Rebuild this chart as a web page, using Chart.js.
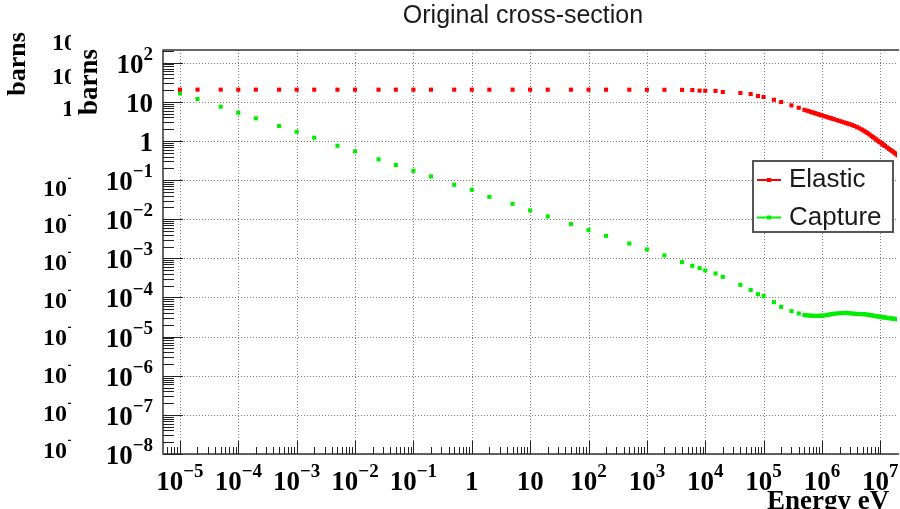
<!DOCTYPE html>
<html>
<head>
<meta charset="utf-8">
<title>Original cross-section</title>
<script src="https://cdn.jsdelivr.net/npm/chart.js@4/dist/chart.umd.min.js"></script>
<style>
  html, body { margin: 0; padding: 0; background: #fff; overflow: hidden; }
  #wrap { width: 900px; height: 509px; position: relative; }
  canvas { display: block; }
</style>
</head>
<body>
<div id="wrap"><canvas id="xs" width="900" height="509"></canvas></div>
<script>
// Incident neutron energy, eV
const energies = [
  1e-5, 2e-5, 5e-5, 1e-4, 2e-4, 5e-4, 1e-3, 2e-3, 5e-3, 1e-2,
  0.0253, 0.05, 0.1, 0.2, 0.5, 1, 2, 5, 10, 20,
  50, 100, 200, 500, 1e3, 2e3, 4e3, 6e3, 8e3, 1e4,
  1.5e4, 2e4, 4e4, 6e4, 8e4, 1e5, 1.5e5, 2e5, 3e5, 4e5,
  5e5, 5.5e5, 6e5, 6.5e5, 7e5, 7.5e5, 8e5, 8.5e5, 9e5, 9.5e5,
  1e6, 1.1e6, 1.2e6, 1.3e6, 1.4e6, 1.5e6, 1.6e6, 1.8e6,
  2e6, 2.2e6, 2.4e6, 2.6e6, 2.8e6, 3e6, 3.3e6, 3.6e6,
  4e6, 4.4e6, 4.8e6, 5.2e6, 5.6e6,
  6e6, 6.5e6, 7e6, 7.5e6, 8e6, 8.5e6, 9e6, 9.5e6,
  1e7, 1.05e7, 1.1e7, 1.15e7, 1.2e7,
  1.3e7, 1.4e7, 1.5e7, 1.6e7, 1.7e7, 1.8e7, 1.9e7, 2e7
];

// Elastic scattering cross-section, barns
const elastic = [
  20.49, 20.48, 20.47, 20.46, 20.46, 20.45, 20.45, 20.44, 20.44, 20.44,
  20.43, 20.43, 20.43, 20.43, 20.43, 20.43, 20.43, 20.43, 20.42, 20.42,
  20.42, 20.41, 20.40, 20.38, 20.35, 20.30, 20.20, 20.00, 19.30, 19.20,
  19.00, 17.80, 16.80, 15.80, 14.10, 13.30, 11.30, 9.90, 8.10, 7.06,
  6.24, 5.97, 5.73, 5.51, 5.32, 5.15, 4.99, 4.85, 4.72, 4.60,
  4.50, 4.30, 4.12, 3.97, 3.84, 3.72, 3.60, 3.40,
  3.24, 3.10, 2.97, 2.86, 2.76, 2.67, 2.54, 2.41,
  2.25, 2.10, 1.96, 1.83, 1.71,
  1.59, 1.47, 1.35, 1.25, 1.17, 1.09, 1.02, 0.96,
  0.92, 0.87, 0.82, 0.78, 0.746,
  0.684, 0.63, 0.585, 0.546, 0.51, 0.48, 0.452, 0.427
];

// Radiative capture cross-section, barns
const capture = [
  16.5, 11.8, 7.5, 5.26, 3.78, 2.40, 1.72, 1.21, 0.754, 0.542,
  0.338, 0.242, 0.173, 0.124, 0.0759, 0.0565, 0.0374, 0.0248, 0.0168, 0.0118,
  0.0075, 0.00526, 0.00376, 0.0024, 1.69e-3, 1.19e-3, 8.0e-4, 6.43e-4, 5.61e-4, 4.91e-4,
  4.11e-4, 3.37e-4, 2.10e-4, 1.56e-4, 1.21e-4, 1.08e-4, 7.58e-5, 5.75e-5, 4.47e-5, 3.90e-5,
  3.55e-5, 3.50e-5, 3.46e-5, 3.42e-5, 3.40e-5, 3.38e-5, 3.38e-5, 3.38e-5, 3.39e-5, 3.41e-5,
  3.43e-5, 3.48e-5, 3.54e-5, 3.62e-5, 3.72e-5, 3.78e-5, 3.83e-5, 3.90e-5,
  3.96e-5, 4.01e-5, 4.04e-5, 4.03e-5, 3.99e-5, 3.94e-5, 3.88e-5, 3.84e-5,
  3.80e-5, 3.77e-5, 3.75e-5, 3.74e-5, 3.70e-5,
  3.64e-5, 3.58e-5, 3.50e-5, 3.44e-5, 3.38e-5, 3.33e-5, 3.28e-5, 3.24e-5,
  3.20e-5, 3.17e-5, 3.13e-5, 3.10e-5, 3.07e-5,
  3.02e-5, 2.97e-5, 2.93e-5, 2.89e-5, 2.86e-5, 2.83e-5, 2.80e-5, 2.78e-5
];

const seriesNames = ['Elastic', 'Capture'];

// Decade ticks and their labels ("^" marks the exponent)
const xTickValues = [1e-5, 1e-4, 1e-3, 1e-2, 1e-1, 1, 10, 1e2, 1e3, 1e4, 1e5, 1e6, 1e7];
const xTickLabels = ['10^-5', '10^-4', '10^-3', '10^-2', '10^-1', '1', '10', '10^2', '10^3', '10^4', '10^5', '10^6', '10^7'];
const yTickValues = [1e-8, 1e-7, 1e-6, 1e-5, 1e-4, 1e-3, 1e-2, 1e-1, 1, 10, 1e2];
const yTickLabels = ['10^-8', '10^-7', '10^-6', '10^-5', '10^-4', '10^-3', '10^-2', '10^-1', '1', '10', '10^2'];

const chartTitle = 'Original cross-section';
const xTitle = 'Energy eV';
const yTitle = 'barns';

const SERIF = '"Liberation Serif", "Times New Roman", serif';
const SANS = '"Liberation Sans", Arial, sans-serif';

function toPoints(ys) {
  return energies.map((e, i) => ({ x: e, y: ys[i] }));
}

// Draws a label such as "10^-3" as base + raised exponent
function drawPower(ctx, label, x, baseline, align, size) {
  const parts = label.split('^');
  const base = parts[0];
  const sup = parts.length > 1 ? parts[1].replace('-', '\u2212') : '';
  const supSize = Math.round(size * 0.7);
  ctx.font = 'bold ' + size + 'px ' + SERIF;
  const wb = ctx.measureText(base).width;
  ctx.font = 'bold ' + supSize + 'px ' + SERIF;
  const ws = sup ? ctx.measureText(sup).width : 0;
  const total = wb + ws;
  let x0 = x;
  if (align === 'center') x0 = x - total / 2;
  else if (align === 'right') x0 = x - total;
  ctx.textAlign = 'left';
  ctx.textBaseline = 'alphabetic';
  ctx.font = 'bold ' + size + 'px ' + SERIF;
  ctx.fillText(base, x0, baseline);
  if (sup) {
    ctx.font = 'bold ' + supSize + 'px ' + SERIF;
    ctx.fillText(sup, x0 + wb, baseline - size * 0.48);
  }
}

function decadeMinors(min, max) {
  const out = [];
  const d0 = Math.floor(Math.log10(min)) - 1;
  const d1 = Math.ceil(Math.log10(max)) + 1;
  for (let d = d0; d <= d1; d++) {
    for (let k = 2; k <= 9; k++) {
      const v = k * Math.pow(10, d);
      if (v > min && v < max) out.push(v);
    }
  }
  return out;
}

const rootFrame = {
  id: 'rootFrame',
  beforeDraw(chart) {
    const ctx = chart.ctx;
    ctx.save();
    ctx.fillStyle = '#ffffff';
    ctx.fillRect(0, 0, chart.width, chart.height);
    ctx.restore();
  },
  beforeDatasetsDraw(chart) {
    const { ctx, chartArea: a, scales: { x, y } } = chart;
    ctx.save();
    ctx.strokeStyle = '#7a7a7a';
    ctx.lineWidth = 1;
    ctx.setLineDash([1, 2]);
    xTickValues.forEach(v => {
      const px = Math.round(x.getPixelForValue(v)) + 0.5;
      ctx.beginPath(); ctx.moveTo(px, a.top); ctx.lineTo(px, a.bottom); ctx.stroke();
    });
    yTickValues.forEach(v => {
      const py = Math.round(y.getPixelForValue(v)) + 0.5;
      ctx.beginPath(); ctx.moveTo(a.left, py); ctx.lineTo(a.right, py); ctx.stroke();
    });
    ctx.restore();
  },
  afterDatasetsDraw(chart) {
    const { ctx, chartArea: a, scales: { x, y } } = chart;
    ctx.save();

    // frame
    ctx.strokeStyle = '#333';
    ctx.lineWidth = 1.5;
    ctx.beginPath();
    ctx.moveTo(a.right + 2, a.top);
    ctx.lineTo(a.left, a.top);
    ctx.lineTo(a.left, a.bottom);
    ctx.lineTo(a.right + 2, a.bottom);
    ctx.stroke();

    // inward ticks
    ctx.lineWidth = 1;
    ctx.strokeStyle = '#222';
    const yMin = y.min, yMax = y.max, xMin = x.min, xMax = x.max;
    yTickValues.forEach(v => {
      const py = Math.round(y.getPixelForValue(v)) + 0.5;
      ctx.beginPath(); ctx.moveTo(a.left, py); ctx.lineTo(a.left + 20, py); ctx.stroke();
    });
    decadeMinors(yMin, yMax).forEach(v => {
      const py = Math.round(y.getPixelForValue(v)) + 0.5;
      ctx.beginPath(); ctx.moveTo(a.left, py); ctx.lineTo(a.left + 11, py); ctx.stroke();
    });
    xTickValues.forEach(v => {
      const px = Math.round(x.getPixelForValue(v)) + 0.5;
      ctx.beginPath(); ctx.moveTo(px, a.bottom); ctx.lineTo(px, a.bottom - 13); ctx.stroke();
    });
    decadeMinors(xMin, xMax).forEach(v => {
      const px = Math.round(x.getPixelForValue(v)) + 0.5;
      ctx.beginPath(); ctx.moveTo(px, a.bottom); ctx.lineTo(px, a.bottom - 7); ctx.stroke();
    });

    // tick labels
    ctx.fillStyle = '#000';
    xTickValues.forEach((v, i) => {
      drawPower(ctx, xTickLabels[i], x.getPixelForValue(v), 490, 'center', 27);
    });
    yTickValues.forEach((v, i) => {
      drawPower(ctx, yTickLabels[i], 153, y.getPixelForValue(v) + 10, 'right', 27);
    });

    // axis titles
    ctx.font = 'bold 27px ' + SERIF;
    ctx.textAlign = 'left';
    ctx.textBaseline = 'alphabetic';
    ctx.fillText(xTitle, 767, 509);

    ctx.save();
    ctx.translate(97, 82);
    ctx.rotate(-Math.PI / 2);
    ctx.font = 'bold 27px ' + SERIF;
    ctx.textAlign = 'center';
    ctx.fillText(yTitle, 0, 0);
    ctx.restore();

    // second, offset copy of the axis title and labels along the left margin
    ctx.save();
    ctx.translate(25, 64);
    ctx.rotate(-Math.PI / 2);
    ctx.font = 'bold 26px ' + SERIF;
    ctx.textAlign = 'center';
    ctx.fillText(yTitle, 0, 0);
    ctx.restore();

    ctx.save();
    ctx.beginPath();
    ctx.rect(0, 0, 71, chart.height);
    ctx.clip();
    const ghost = [
      [yTickLabels[10], 52, 50], [yTickLabels[9], 52, 84], [yTickLabels[8], 62, 116],
      [yTickLabels[7], 43, 196], [yTickLabels[6], 43, 233], [yTickLabels[5], 43, 270],
      [yTickLabels[4], 43, 308], [yTickLabels[3], 43, 345], [yTickLabels[2], 43, 383],
      [yTickLabels[1], 43, 421], [yTickLabels[0], 43, 458]
    ];
    ghost.forEach(g => drawPower(ctx, g[0], g[1], g[2], 'left', 24));
    ctx.restore();

    // title
    ctx.fillStyle = '#1a1a1a';
    ctx.font = '25px ' + SANS;
    ctx.textAlign = 'center';
    ctx.fillText(chartTitle, 523, 23);

    // legend
    const lx = 753, ly = 161, lw = 140, lh = 71;
    ctx.fillStyle = '#fff';
    ctx.fillRect(lx, ly, lw, lh);
    ctx.strokeStyle = '#555';
    ctx.lineWidth = 2;
    ctx.strokeRect(lx, ly, lw, lh);
    const rows = [180, 217.5];
    chart.data.datasets.forEach((ds, i) => {
      const ry = rows[i];
      ctx.strokeStyle = ds.backgroundColor;
      ctx.lineWidth = 2;
      ctx.beginPath(); ctx.moveTo(757, ry); ctx.lineTo(781, ry); ctx.stroke();
      ctx.fillStyle = ds.backgroundColor;
      ctx.fillRect(767, ry - 2, 4, 4);
      ctx.fillStyle = '#1a1a1a';
      ctx.font = '26px ' + SANS;
      ctx.textAlign = 'left';
      ctx.fillText(ds.label, 789, ry + 7);
    });

    ctx.restore();
  }
};

new Chart(document.getElementById('xs'), {
  type: 'scatter',
  data: {
    datasets: [
      {
        label: seriesNames[0],
        data: toPoints(elastic),
        backgroundColor: '#ff0000',
        borderColor: '#ff0000',
        borderWidth: 0,
        pointStyle: 'rect',
        pointRadius: 2.9,
        pointHoverRadius: 2.9
      },
      {
        label: seriesNames[1],
        data: toPoints(capture),
        backgroundColor: '#00ee00',
        borderColor: '#00ee00',
        borderWidth: 0,
        pointStyle: 'rect',
        pointRadius: 2.9,
        pointHoverRadius: 2.9
      }
    ]
  },
  options: {
    responsive: false,
    maintainAspectRatio: false,
    devicePixelRatio: 1,
    animation: false,
    events: [],
    layout: { padding: { left: 163, right: 0, top: 50, bottom: 55 } },
    plugins: {
      legend: { display: false },
      title: { display: false },
      tooltip: { enabled: false }
    },
    scales: {
      x: {
        type: 'logarithmic',
        display: false,
        min: 5.13e-6,
        max: 1.936e7
      },
      y: {
        type: 'logarithmic',
        display: false,
        min: 1e-8,
        max: 211
      }
    }
  },
  plugins: [rootFrame]
});
</script>
</body>
</html>
